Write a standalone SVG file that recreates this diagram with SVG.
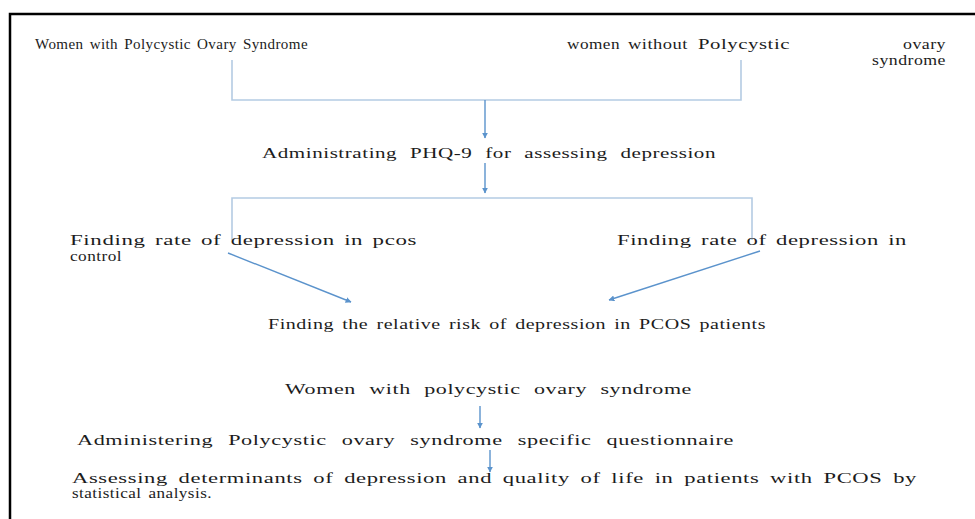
<svg xmlns="http://www.w3.org/2000/svg" width="975" height="519" viewBox="0 0 975 519">
<style>
  text { font-family: "Liberation Serif", "Times New Roman", serif; font-size: 15px; letter-spacing: 0.4px; word-spacing: 2px; fill: #1c1c1c; }
  .br { stroke: #b4cbe3; stroke-width: 1.6; fill: none; }
  .ar { stroke: #5b93cc; stroke-width: 1.4; fill: none; marker-end: url(#ah); }
</style>
<defs>
  <marker id="ah" viewBox="0 0 10 10" refX="9" refY="5" markerWidth="6" markerHeight="6" orient="auto" markerUnits="userSpaceOnUse">
    <path d="M0,0 L10,5 L0,10 z" fill="#5b93cc"/>
  </marker>
</defs>
<rect width="975" height="519" fill="#fff"/>
<path d="M10,519 V14 H975" stroke="#000" stroke-width="2.5" fill="none"/>

<g id="connectors">
  <path class="br" d="M232,60 V100 H741 V60"/>
  <path class="ar" d="M485,100 V138"/>
  <path class="ar" d="M485,163 V193"/>
  <path class="br" d="M232,240 V198 H752 V240"/>
  <path class="ar" d="M228,253 L351,302"/>
  <path class="ar" d="M760,251 L609,300"/>
  <path class="ar" d="M480,406 V428"/>
  <path class="ar" d="M490,450 V472"/>
</g>

<g id="n1"><text x="35" y="49" textLength="273" lengthAdjust="spacingAndGlyphs">Women with Polycystic Ovary Syndrome</text></g>
<g id="n2">
  <text x="567" y="49" textLength="53" lengthAdjust="spacingAndGlyphs">women</text>
  <text x="628" y="49" textLength="60" lengthAdjust="spacingAndGlyphs">without</text>
  <text x="698" y="49" textLength="92" lengthAdjust="spacingAndGlyphs">Polycystic</text>
  <text x="903" y="49" textLength="43" lengthAdjust="spacingAndGlyphs">ovary</text>
  <text x="872" y="65" textLength="74" lengthAdjust="spacingAndGlyphs">syndrome</text>
</g>
<g id="n3"><text x="262" y="158" style="word-spacing:5px" textLength="454" lengthAdjust="spacingAndGlyphs">Administrating PHQ-9 for assessing depression</text></g>
<g id="n4">
  <text x="70" y="245" textLength="347" lengthAdjust="spacingAndGlyphs">Finding rate of depression in pcos</text>
  <text x="70" y="261" textLength="52" lengthAdjust="spacingAndGlyphs">control</text>
</g>
<g id="n5"><text x="617" y="245" textLength="290" lengthAdjust="spacingAndGlyphs">Finding rate of depression in</text></g>
<g id="n6"><text x="268" y="329" textLength="498" lengthAdjust="spacingAndGlyphs">Finding the relative risk of depression in PCOS patients</text></g>
<g id="n7"><text x="285" y="394" style="word-spacing:5px" textLength="407" lengthAdjust="spacingAndGlyphs">Women with polycystic ovary syndrome</text></g>
<g id="n8"><text x="77" y="445" style="word-spacing:6px" textLength="657" lengthAdjust="spacingAndGlyphs">Administering Polycystic ovary syndrome specific questionnaire</text></g>
<g id="n9">
  <text x="72" y="483" style="word-spacing:3px" textLength="845" lengthAdjust="spacingAndGlyphs">Assessing determinants of depression and quality of life in patients with PCOS by</text>
  <text x="72" y="498" textLength="140" lengthAdjust="spacingAndGlyphs">statistical analysis.</text>
</g>
</svg>
